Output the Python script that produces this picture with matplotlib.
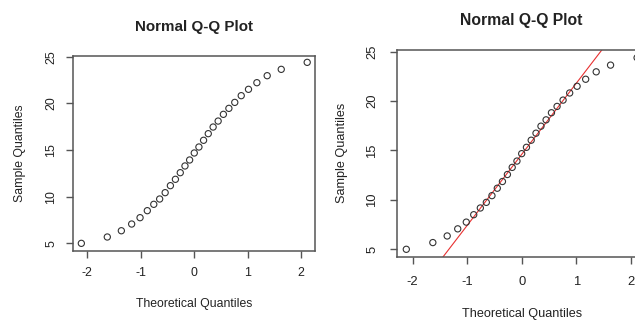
import matplotlib
matplotlib.use("Agg")
import matplotlib.pyplot as plt
import numpy as np

plt.rcParams["font.family"] = ["Liberation Sans", "DejaVu Sans"]

# theoretical quantiles (29 points) and sorted sample values
theo = [-2.114, -1.628, -1.365, -1.172, -1.015, -0.879, -0.758, -0.648, -0.545,
        -0.447, -0.353, -0.262, -0.174, -0.087, 0.0, 0.087, 0.174, 0.262, 0.353,
        0.447, 0.545, 0.648, 0.758, 0.879, 1.015, 1.172, 1.365, 1.628, 2.114]
sample = [5.0, 5.68, 6.35, 7.07, 7.75, 8.5, 9.18, 9.75, 10.43, 11.18, 11.86,
          12.57, 13.29, 13.93, 14.68, 15.32, 16.04, 16.75, 17.46, 18.1, 18.82,
          19.46, 20.1, 20.82, 21.5, 22.21, 22.96, 23.64, 24.39]
xticks = [-2, -1, 0, 1, 2]
yticks = [5, 10, 15, 20, 25]

TXT = "#222222"
EDGE = "#555555"
W, H = 635, 320

fig = plt.figure(figsize=(W / 100, H / 100), dpi=100)


def px(x, y):
    return x / W, 1 - y / H


def panel(box, xlim, ylim, title_xy, xlab_xy, ylab_xy, tick_fs, lab_fs, title_fs,
          xpad, ypad, qqline=False):
    l, t, r, b = box
    ax = fig.add_axes([l / W, 1 - b / H, (r - l) / W, (b - t) / H])
    ax.scatter(theo, sample, s=20, facecolors="none", edgecolors="#333333",
               linewidths=0.8, zorder=3)
    if qqline:
        q1, q3 = np.percentile(sample, [25, 75])
        z1, z3 = -0.6745, 0.6745
        slope = (q3 - q1) / (z3 - z1)
        icpt = q1 - slope * z1
        ax.axline((0, icpt), slope=slope, color="#e83030", lw=0.8, zorder=2)
    ax.set_xlim(*xlim)
    ax.set_ylim(*ylim)
    ax.set_xticks(xticks)
    ax.set_yticks(yticks)
    ax.set_xticklabels([str(v) for v in xticks])
    ax.set_yticklabels([str(v) for v in yticks], rotation=90, va="center")
    ax.tick_params(axis="both", length=4.7, width=1.0, color=EDGE,
                   labelcolor=TXT, labelsize=tick_fs)
    ax.tick_params(axis="x", pad=xpad)
    ax.tick_params(axis="y", pad=ypad)
    for s in ax.spines.values():
        s.set_color(EDGE)
        s.set_linewidth(1.1)
    fig.text(*px(*title_xy), "Normal Q-Q Plot", ha="center", va="center",
             fontsize=title_fs, fontweight="bold", color=TXT)
    fig.text(*px(*xlab_xy), "Theoretical Quantiles", ha="center", va="center",
             fontsize=lab_fs, color=TXT)
    fig.text(*px(*ylab_xy), "Sample Quantiles", ha="center", va="center",
             rotation=90, fontsize=lab_fs, color=TXT)
    return ax


panel((73, 56, 315, 251), (-2.27, 2.26), (4.18, 25.07),
      (194, 27), (194, 304), (20, 153), 8.9, 8.8, 10.9, 7.0, 6.5)
panel((396.7, 50, 645.6, 257.3), (-2.29, 2.27), (4.19, 25.17),
      (521.7, 20), (521.7, 314), (341.7, 153), 9.4, 9.1, 11.3, 8.5, 8.5,
      qqline=True)

fig.savefig("out.png", dpi=100)
